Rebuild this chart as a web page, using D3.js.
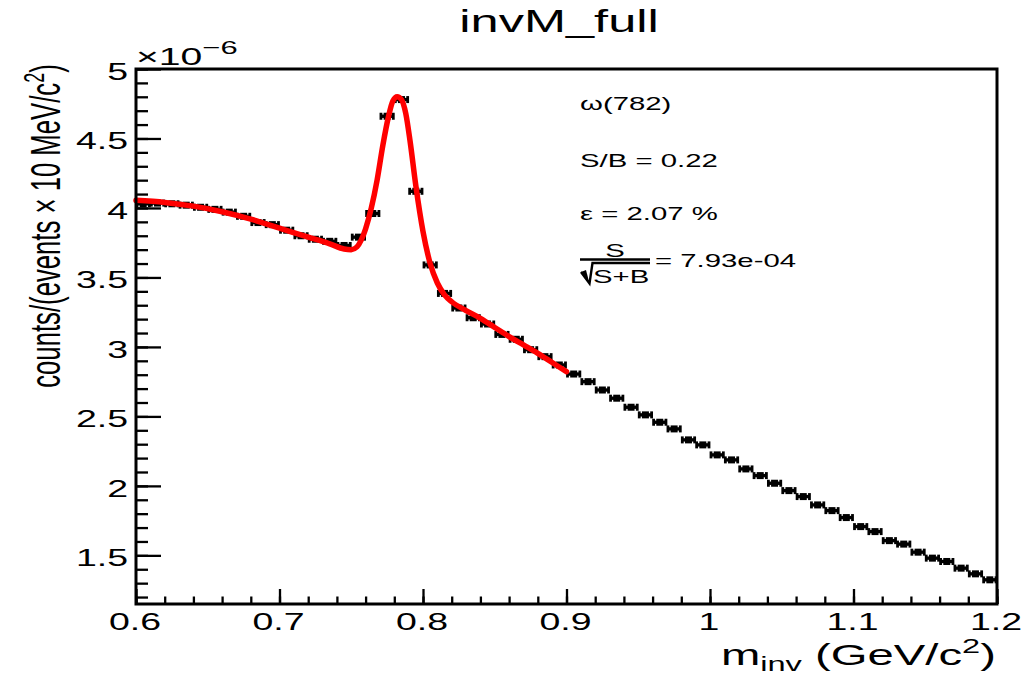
<!DOCTYPE html>
<html>
<head>
<meta charset="utf-8">
<script src="https://cdn.jsdelivr.net/npm/d3@7/dist/d3.min.js"></script>
<style>
  html, body { margin: 0; padding: 0; background: #fff; }
  svg { display: block; font-family: "Liberation Sans", Arial, Helvetica, sans-serif; }
</style>
</head>
<body>
<svg id="chart" width="1029" height="674"></svg>
<script>
// Invariant-mass histogram: bin centres (GeV/c^2), 10 MeV bins
const massBins = [
  0.605, 0.615, 0.625, 0.635, 0.645, 0.655, 0.665, 0.675, 0.685, 0.695,
  0.705, 0.715, 0.725, 0.735, 0.745, 0.755, 0.765, 0.775, 0.785, 0.795,
  0.805, 0.815, 0.825, 0.835, 0.845, 0.855, 0.865, 0.875, 0.885, 0.895,
  0.905, 0.915, 0.925, 0.935, 0.945, 0.955, 0.965, 0.975, 0.985, 0.995,
  1.005, 1.015, 1.025, 1.035, 1.045, 1.055, 1.065, 1.075, 1.085, 1.095,
  1.105, 1.115, 1.125, 1.135, 1.145, 1.155, 1.165, 1.175, 1.185, 1.195
];
const binWidth = 0.01;

// counts per bin, in units of 1e-6
const counts = [
  4.030, 4.035, 4.030, 4.020, 4.005, 3.990, 3.970, 3.940, 3.895, 3.880,
  3.840, 3.800, 3.775, 3.760, 3.730, 3.790, 3.960, 4.660, 4.780, 4.120,
  3.590, 3.385, 3.280, 3.210, 3.165, 3.090, 3.055, 2.980, 2.930, 2.870,
  2.805, 2.750, 2.690, 2.631, 2.566, 2.511, 2.458, 2.410, 2.331, 2.295,
  2.223, 2.187, 2.122, 2.074, 2.019, 1.966, 1.923, 1.863, 1.822, 1.772,
  1.707, 1.671, 1.606, 1.581, 1.523, 1.480, 1.456, 1.408, 1.367, 1.324
];

// fitted signal + background curve, sampled (mass, value in 1e-6)
const fitMass = [
  0.600, 0.620, 0.640, 0.660, 0.680, 0.700, 0.720, 0.735, 0.745, 0.750,
  0.754, 0.757, 0.760, 0.764, 0.768, 0.772, 0.776, 0.779, 0.782, 0.785,
  0.788, 0.791, 0.795, 0.800, 0.805, 0.810, 0.815, 0.820, 0.830, 0.840,
  0.850, 0.860, 0.870, 0.880, 0.890, 0.900
];
const fitValue = [
  4.055, 4.040, 4.013, 3.973, 3.920, 3.855, 3.790, 3.742, 3.705, 3.700,
  3.720, 3.770, 3.850, 4.000, 4.200, 4.450, 4.660, 4.770, 4.800, 4.780,
  4.680, 4.480, 4.160, 3.830, 3.600, 3.460, 3.375, 3.325, 3.262, 3.206,
  3.140, 3.074, 3.014, 2.954, 2.888, 2.822
];

// axis ticks and labels
const xMajorTicks = [0.6, 0.7, 0.8, 0.9, 1.0, 1.1, 1.2];
const xTickLabels = ["0.6", "0.7", "0.8", "0.9", "1", "1.1", "1.2"];
const yMajorTicks = [1.5, 2, 2.5, 3, 3.5, 4, 4.5, 5];
const yTickLabels = ["1.5", "2", "2.5", "3", "3.5", "4", "4.5", "5"];

// fit summary lines
const statLines = ["ω(782)", "S/B = 0.22", "ε = 2.07 %"];
const significanceText = "= 7.93e-04";

// ---------------------------------------------------------------------
const svg = d3.select("#chart");
const W = 1029, H = 674;
const frame = { left: 136, right: 997, top: 69, bottom: 604 };
const SX = 1.63;               // horizontal glyph stretch of the canvas text
const font = "'Liberation Sans', Arial, Helvetica, sans-serif";

svg.append("rect").attr("width", W).attr("height", H).attr("fill", "#fff");

const x = d3.scaleLinear().domain([0.6, 1.2]).range([frame.left, frame.right]);
const y = d3.scaleLinear().domain([1.15, 5]).range([frame.bottom, frame.top]);

function stretchedText(parent, px, py, anchor, size) {
  return parent.append("text")
    .attr("transform", `translate(${px},${py}) scale(${SX},1)`)
    .attr("text-anchor", anchor)
    .attr("font-family", font)
    .attr("font-size", size)
    .attr("fill", "#000");
}

// ---- axes (ticks drawn inward) ----
const xMinor = d3.range(0, 31).map(i => 0.6 + i * 0.02);
const yMinor = d3.range(0, 39).map(i => 1.2 + i * 0.1);

function tidy(g) {
  g.select(".domain").remove();
  g.selectAll("line").attr("stroke", "#000").attr("stroke-width", 2.3);
}

svg.append("g").attr("transform", `translate(0,${frame.bottom})`)
  .call(d3.axisBottom(x).tickValues(xMinor).tickSize(-7.5).tickFormat(""))
  .call(tidy);
svg.append("g").attr("transform", `translate(0,${frame.bottom})`)
  .call(d3.axisBottom(x).tickValues(xMajorTicks).tickSize(-15).tickFormat(""))
  .call(tidy);
svg.append("g").attr("transform", `translate(${frame.left},0)`)
  .call(d3.axisLeft(y).tickValues(yMinor).tickSize(-12).tickFormat(""))
  .call(tidy);
svg.append("g").attr("transform", `translate(${frame.left},0)`)
  .call(d3.axisLeft(y).tickValues(yMajorTicks).tickSize(-25).tickFormat(""))
  .call(tidy);

// tick labels
xMajorTicks.forEach((v, i) => {
  stretchedText(svg, x(v) - 1, 630, "middle", 23).text(xTickLabels[i]);
});
yMajorTicks.forEach((v, i) => {
  stretchedText(svg, 128, y(v) + 11, "end", 23).text(yTickLabels[i]);
});

// exponent label
const expo = stretchedText(svg, 136, 65, "start", 24);
expo.append("tspan").text("×10");
expo.append("tspan").attr("font-size", 19).attr("dy", -11).text("−6");

// ---- histogram points with horizontal error bars ----
const pts = svg.append("g").attr("fill", "#000").attr("stroke", "#000");
massBins.forEach((m, i) => {
  const x0 = x(m - binWidth / 2) + 1, x1 = x(m + binWidth / 2) - 1;
  const cy = y(counts[i]);
  pts.append("line").attr("x1", x0).attr("x2", x1).attr("y1", cy).attr("y2", cy)
    .attr("stroke-width", 3.4);
  pts.append("line").attr("x1", x0).attr("x2", x0).attr("y1", cy - 3.5).attr("y2", cy + 3.5)
    .attr("stroke-width", 2.8);
  pts.append("line").attr("x1", x1).attr("x2", x1).attr("y1", cy - 3.5).attr("y2", cy + 3.5)
    .attr("stroke-width", 2.8);
  pts.append("rect").attr("x", x(m) - 3.5).attr("y", cy - 3.5)
    .attr("width", 7).attr("height", 7).attr("stroke", "none");
});

// ---- fit curve ----
const fitLine = d3.line()
  .x((d, i) => x(fitMass[i]))
  .y(d => y(d))
  .curve(d3.curveMonotoneX);
svg.append("path")
  .attr("d", fitLine(fitValue))
  .attr("fill", "none")
  .attr("stroke", "#ff0000")
  .attr("stroke-width", 5.5)
  .attr("stroke-linejoin", "round")
  .attr("stroke-linecap", "round");

// ---- frame ----
svg.append("rect")
  .attr("x", frame.left).attr("y", frame.top)
  .attr("width", frame.right - frame.left).attr("height", frame.bottom - frame.top)
  .attr("fill", "none").attr("stroke", "#000").attr("stroke-width", 3);

// ---- title ----
stretchedText(svg, 559, 32, "middle", 31).text("invM_full");

// ---- x axis title ----
const xt = stretchedText(svg, 996, 665, "end", 29);
xt.append("tspan").text("m");
xt.append("tspan").attr("font-size", 20).attr("dy", 6).text("inv");
xt.append("tspan").attr("dy", -6).text(" (GeV/c");
xt.append("tspan").attr("font-size", 20).attr("dy", -12).text("2");
xt.append("tspan").attr("dy", 12).text(")");

// ---- y axis title ----
const yt = svg.append("text")
  .attr("transform", `translate(60,226) scale(${SX},1) rotate(-90)`)
  .attr("text-anchor", "middle")
  .attr("font-family", font)
  .attr("font-size", 25.7)
  .attr("fill", "#000");
yt.append("tspan").text("counts/(events × 10 MeV/c");
yt.append("tspan").attr("font-size", 18).attr("dy", -10).text("2");
yt.append("tspan").attr("dy", 10).text(")");

// ---- fit summary ----
const statBase = [110, 167, 220];
statLines.forEach((t, i) => {
  stretchedText(svg, 580, statBase[i], "start", 18).text(t);
});
// S / sqrt(S+B)
stretchedText(svg, 615, 256.5, "middle", 18).text("S");
svg.append("line").attr("x1", 580).attr("x2", 650).attr("y1", 259.5).attr("y2", 259.5)
  .attr("stroke", "#000").attr("stroke-width", 2.4);
svg.append("path")
  .attr("d", "M581,272 L589.5,283.5 L592.5,263 L650,263")
  .attr("fill", "none").attr("stroke", "#000").attr("stroke-width", 2.4)
  .attr("stroke-linejoin", "miter");
svg.append("path")
  .attr("d", "M581,272 L589.5,283.5 L586,270 Z")
  .attr("fill", "#000");
stretchedText(svg, 593, 283, "start", 18).text("S+B");
stretchedText(svg, 655, 266.5, "start", 18).text(significanceText);
</script>
</body>
</html>
